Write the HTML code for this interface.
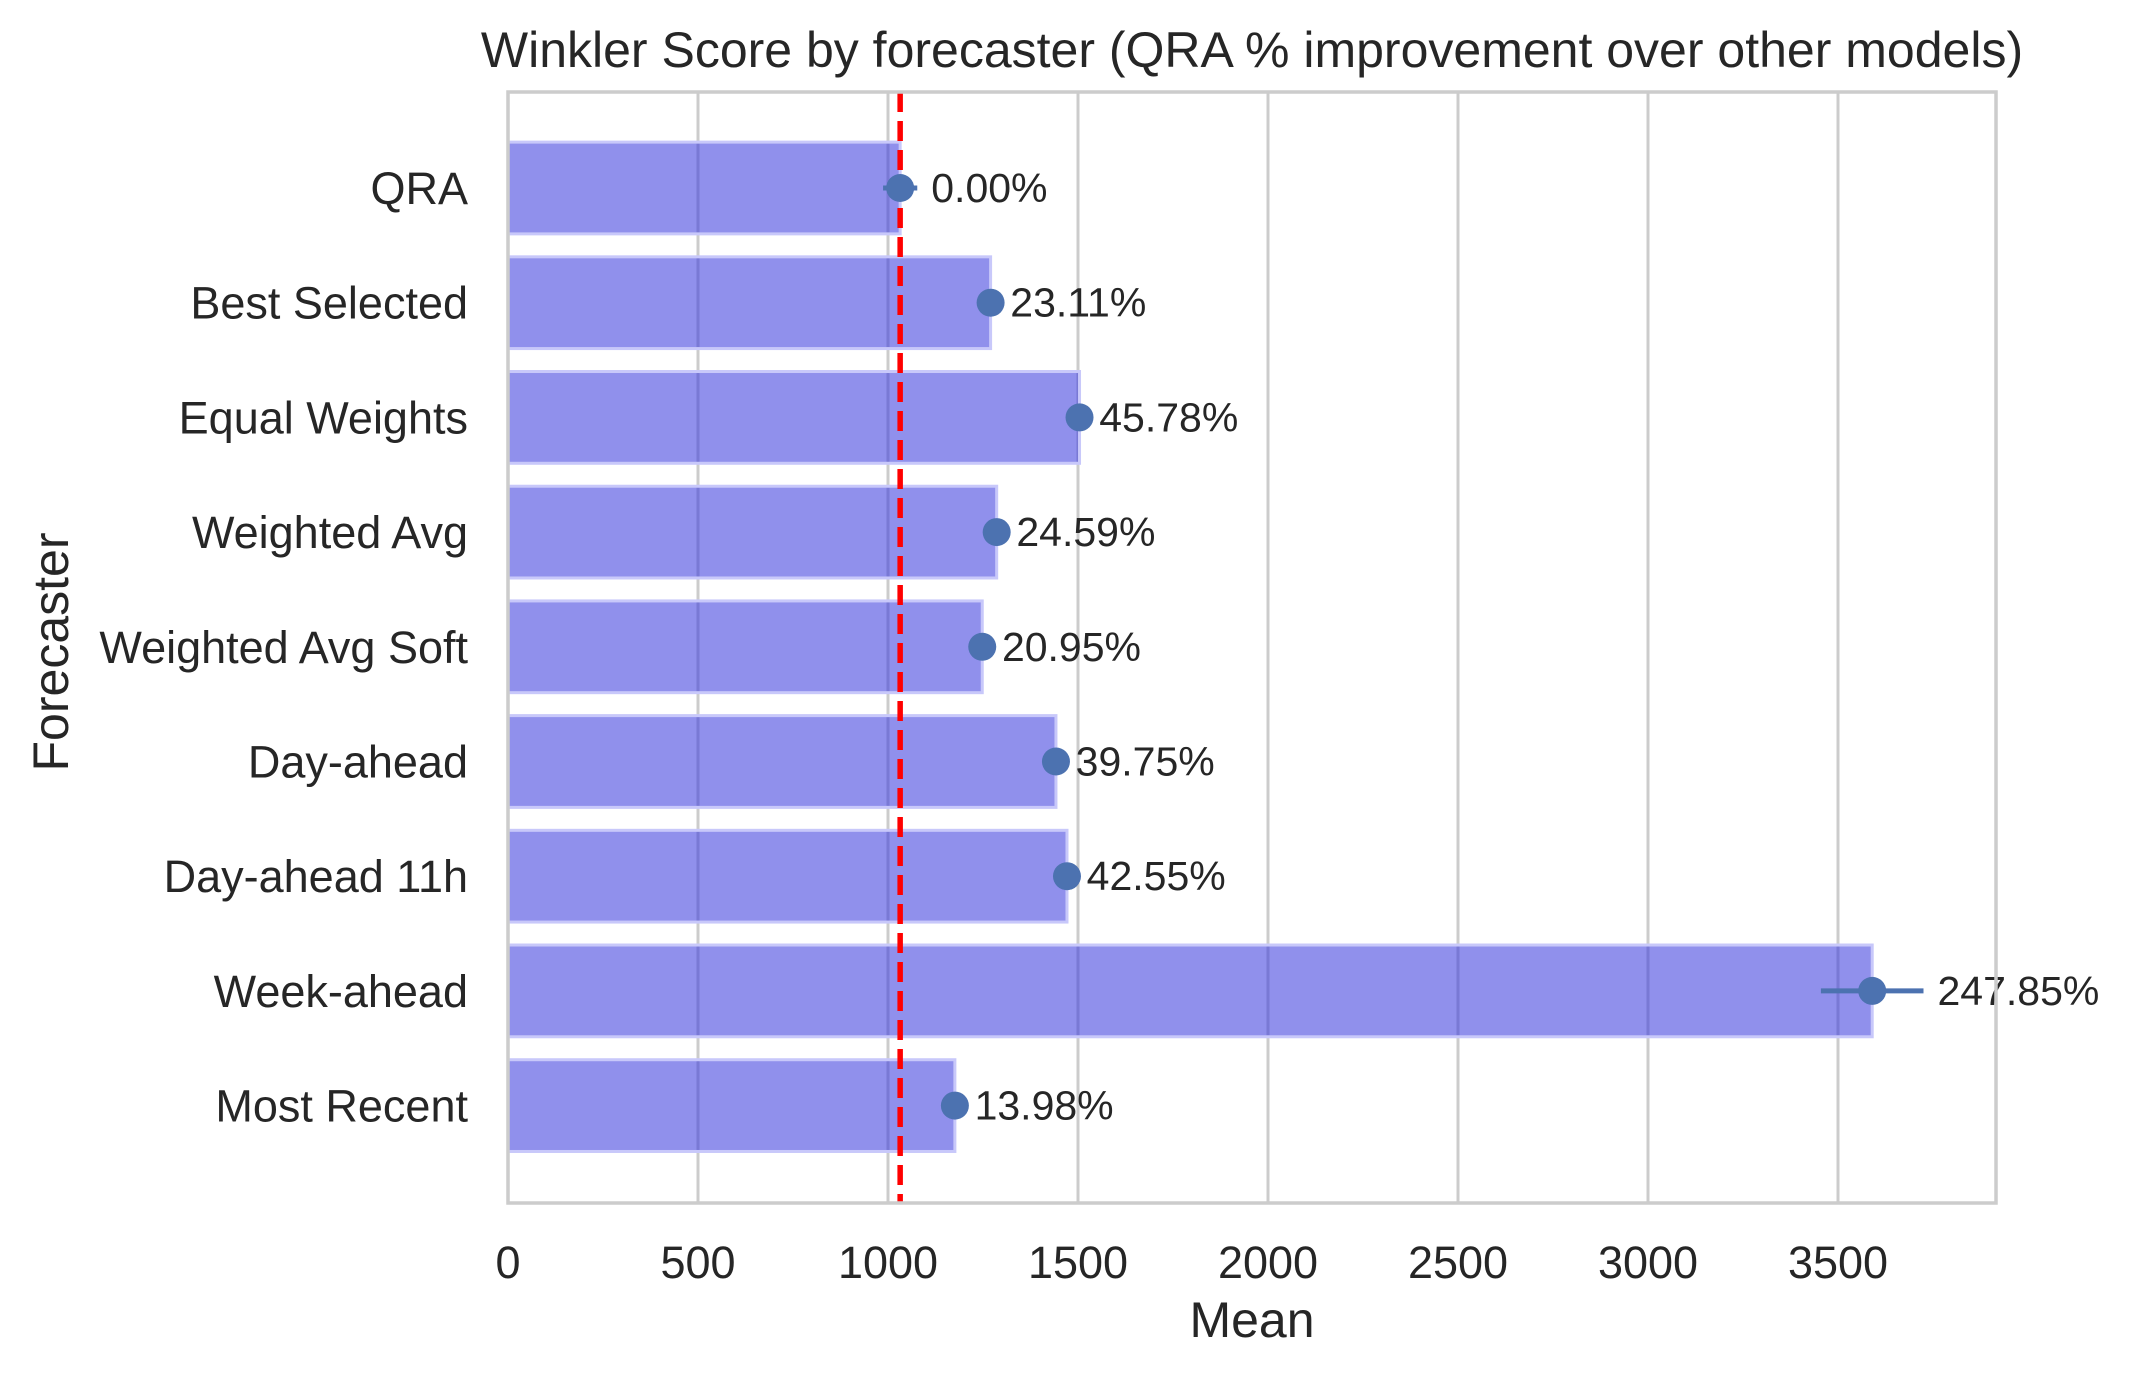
<!DOCTYPE html>
<html><head><meta charset="utf-8"><style>
html,body{margin:0;padding:0;background:#fff;}
svg text{font-family:"Liberation Sans",Arial,sans-serif;fill:#262626;}
</style></head><body>
<svg id="chart" width="2130" height="1376" viewBox="0 0 2130 1376" xmlns="http://www.w3.org/2000/svg">
<rect x="0" y="0" width="2130" height="1376" fill="#fff"/>
<text x="1252" y="67" font-size="50" text-anchor="middle">Winkler Score by forecaster (QRA % improvement over other models)</text>
<g id="grid"></g>
<g id="bars"></g>
<g id="refline"></g>
<g id="points"></g>
<g id="spines"></g>
<g id="ticks"></g>
<text x="1252" y="1337" font-size="50" text-anchor="middle">Mean</text>
<text x="0" y="0" font-size="50" text-anchor="middle" transform="translate(68,652) rotate(-90)">Forecaster</text>
</svg>
<script>
const categories = ["QRA","Best Selected","Equal Weights","Weighted Avg","Weighted Avg Soft","Day-ahead","Day-ahead 11h","Week-ahead","Most Recent"];
const improvementPct = [0.00, 23.11, 45.78, 24.59, 20.95, 39.75, 42.55, 247.85, 13.98];
const baseline = 1032;
const meanValues = [1032, 1270, 1504, 1286, 1248, 1442, 1471, 3590, 1176];
const errHalf = [45, 15, 15, 15, 15, 15, 15, 135, 15];
const xTicks = [0, 500, 1000, 1500, 2000, 2500, 3000, 3500];

const NS = "http://www.w3.org/2000/svg";
const X0 = 508, XR = 1996, YT = 92, YB = 1203;
const pxPerUnit = 0.38;
const x = v => X0 + v * pxPerUnit;
const step = 114.7, firstY = 188;
const y = i => firstY + i * step;
const barH = 0.8 * step;

function mk(tag, attrs, parent) {
  const e = document.createElementNS(NS, tag);
  for (const k in attrs) e.setAttribute(k, attrs[k]);
  document.getElementById(parent).appendChild(e);
  return e;
}

xTicks.forEach((t, i) => {
  const gl = mk("line", {x1: x(t), x2: x(t), y1: YT, y2: YB, stroke: "#cccccc", "stroke-width": 3}, "grid");
  
  
  const tl = mk("text", {x: x(t), y: 1278, "font-size": 45, "text-anchor": "middle"}, "ticks");
  tl.textContent = String(t);
  
  
});

categories.forEach((c, i) => {
  const b = mk("rect", {x: x(0), y: y(i) - barH / 2, width: x(meanValues[i]) - x(0), height: barH,
    fill: "rgb(52,52,220)", "fill-opacity": 0.55, stroke: "rgb(200,200,250)", "stroke-width": 3}, "bars");
  
  

  const eb = mk("line", {x1: x(meanValues[i] - errHalf[i]), x2: x(meanValues[i] + errHalf[i]), y1: y(i), y2: y(i),
    stroke: "#4c72b0", "stroke-width": 5}, "points");
  
  
  const pt = mk("ellipse", {cx: x(meanValues[i]), cy: y(i), rx: 14, ry: 14, fill: "#4c72b0"}, "points");
  
  

  const lab = mk("text", {x: x(meanValues[i] + errHalf[i]) + 14, y: y(i) + 14, "font-size": 41}, "points");
  lab.textContent = improvementPct[i].toFixed(2) + "%";
  
  

  const tl = mk("text", {x: 468, y: y(i) + 16, "font-size": 45, "text-anchor": "end"}, "ticks");
  tl.textContent = c;
  
  
});

const rl = mk("line", {x1: x(baseline), x2: x(baseline), y1: YT, y2: YB, stroke: "#ff0000", "stroke-width": 5.5, "stroke-dasharray": "20,9"}, "refline");



const sp = mk("rect", {x: X0, y: YT, width: XR - X0, height: YB - YT, fill: "none", stroke: "#cccccc", "stroke-width": 3.5}, "spines");


</script>
</body></html>
